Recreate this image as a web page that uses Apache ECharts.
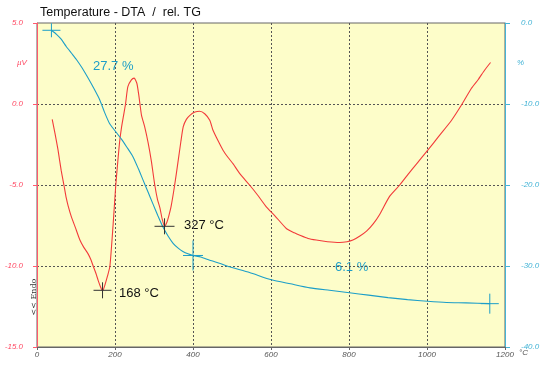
<!DOCTYPE html>
<html><head><meta charset="utf-8">
<script src="https://cdn.jsdelivr.net/npm/echarts@6/dist/echarts.min.js"></script>
<style>html,body{margin:0;padding:0;background:#fff}#c{width:550px;height:370px}</style>
</head><body><div id="c"></div>
<script>
// DTA curve (temperature °C, µV)
const dtaTemp = [39,46,54,62,69,75,80,88,98,110,120,131,138,144,151,157,163,168,175,181,187,195,202,207,212,217,222,227,233,242,249,256,261,264,268,276,285,293,302,309,315,321,327,333,338,344,353,362,369,375,383,392,405,417,430,443,451,465,477,490,503,520,545,565,588,610,640,660,674,695,716,745,776,795,810,828,845,862,879,904,930,956,980,1002,1030,1063,1090,1114,1131,1148,1163];
const dtaVal  = [-0.95,-1.8,-2.85,-4.1,-5.0,-5.8,-6.3,-6.95,-7.6,-8.4,-8.85,-9.25,-9.6,-10.0,-10.45,-10.9,-11.3,-11.55,-11.1,-10.6,-10.0,-7.5,-5.0,-3.6,-2.3,-1.4,-0.7,0,1.07,1.49,1.6,1.28,0.55,0,-0.7,-1.4,-2.4,-3.5,-5.0,-5.9,-6.4,-7.1,-7.55,-7.3,-6.9,-6.3,-5.0,-3.5,-2.3,-1.4,-0.95,-0.7,-0.5,-0.45,-0.6,-1.0,-1.6,-2.3,-2.85,-3.3,-3.7,-4.3,-5.0,-5.6,-6.35,-6.9,-7.7,-7.95,-8.1,-8.3,-8.4,-8.5,-8.55,-8.5,-8.4,-8.15,-7.85,-7.4,-6.8,-5.7,-5.0,-4.2,-3.5,-2.85,-2.0,-1.0,0,0.97,1.5,2.1,2.56];
// TG curve (temperature °C, %)
const tgTemp = [37,50,62,75,88,101,115,131,146,161,173,186,200,216,230,246,260,272,285,297,310,323,336,349,362,374,387,400,420,443,470,494,545,601,650,700,750,801,850,900,950,1001,1050,1100,1161];
const tgVal  = [-0.9,-1.4,-2.0,-2.9,-3.7,-4.5,-5.5,-6.8,-8.1,-9.5,-11.0,-12.4,-13.3,-14.3,-15.3,-16.5,-18.0,-19.4,-20.9,-22.3,-23.8,-25.2,-26.3,-27.2,-27.8,-28.2,-28.5,-28.7,-28.9,-29.3,-29.7,-30.1,-30.8,-31.7,-32.2,-32.7,-33.0,-33.3,-33.6,-33.9,-34.15,-34.35,-34.5,-34.55,-34.65];
// marked points
const dtaMarks = [[168,-11.5],[327,-7.55]];
const tgMarks  = [[37,-0.9],[400,-28.7],[1161,-34.65]];
const xTicks = [0,200,400,600,800,1000,1200];

const RED = '#f23a3a', TEAL = '#1c9ec8';
const dtaMarkSize = [[18,16],[20,16]];
const tgMarkSize  = [[18,14],[20,30],[18,20]];

function crossRenderer(color, sizes){
  return function(params, api){
    const p = api.coord([api.value(0), api.value(1)]);
    const s = sizes[params.dataIndex];
    return {type:'group', children:[
      {type:'line', shape:{x1:p[0]-s[0]/2, y1:p[1], x2:p[0]+s[0]/2, y2:p[1]}, style:{stroke:color, lineWidth:1}},
      {type:'line', shape:{x1:p[0], y1:p[1]-s[1]/2, x2:p[0], y2:p[1]+s[1]/2}, style:{stroke:color, lineWidth:1}}
    ]};
  };
}

const chart = echarts.init(document.getElementById('c'), null, {renderer:'canvas'});
const F = 'Liberation Sans, Arial, sans-serif';
chart.setOption({
  animation:false,
  backgroundColor:'#fff',
  grid:{left:37, right:45, top:23, bottom:23, show:true, backgroundColor:'#fdfdc9', borderColor:'#666', borderWidth:1},
  xAxis:{type:'value', min:0, max:1200, interval:200,
    axisLine:{onZero:false, lineStyle:{color:'#666'}}, axisTick:{show:true, length:3, lineStyle:{color:'#666'}},
    axisLabel:{color:'#555', fontSize:8, fontStyle:'italic', fontFamily:F, margin:4,
      formatter:v=>xTicks.includes(v)?String(v):''},
    splitLine:{show:true, showMinLine:false, showMaxLine:false, lineStyle:{color:'#555', type:[2,2], width:1}}
  },
  yAxis:[
    {type:'value', min:-15, max:5, interval:5, position:'left',
      axisLine:{show:true, onZero:false, lineStyle:{color:'#ff5a6e'}}, axisTick:{show:true, length:4, lineStyle:{color:'#ff5a6e'}},
      axisLabel:{color:'#ff4a64', fontSize:8, fontStyle:'italic', fontFamily:F, margin:14, formatter:v=>v.toFixed(1)},
      splitLine:{show:true, showMinLine:false, showMaxLine:false, lineStyle:{color:'#555', type:[2,2], width:1}}
    },
    {type:'value', min:-40, max:0, interval:10, position:'right',
      axisLine:{show:true, onZero:false, lineStyle:{color:'#45b4d6'}}, axisTick:{show:true, length:5, lineStyle:{color:'#45b4d6'}},
      axisLabel:{color:'#45b4d6', fontSize:8, fontStyle:'italic', fontFamily:F, margin:16, formatter:v=>v.toFixed(1)},
      splitLine:{show:false}
    }
  ],
  series:[
    {type:'line', name:'DTA', yAxisIndex:0, showSymbol:false, smooth:0.2,
      data:dtaTemp.map((t,i)=>[t,dtaVal[i]]), lineStyle:{color:RED, width:1.1}, z:3},
    {type:'line', name:'TG', yAxisIndex:1, showSymbol:false, smooth:0.2,
      data:tgTemp.map((t,i)=>[t,tgVal[i]]), lineStyle:{color:TEAL, width:1.1}, z:3},
    {type:'custom', yAxisIndex:0, data:dtaMarks, renderItem:crossRenderer('#333', dtaMarkSize), z:4},
    {type:'custom', yAxisIndex:1, data:tgMarks, renderItem:crossRenderer(TEAL, tgMarkSize), z:4}
  ],
  graphic:[
    {type:'text', left:40, top:6, style:{text:'Temperature - DTA  /  rel. TG', font:'12.5px '+F, fill:'#111'}},
    {type:'text', left:17, top:59, style:{text:'µV', font:'italic 8px '+F, fill:'#ff4a64'}},
    {type:'text', left:517, top:59, style:{text:'%', font:'italic 8px '+F, fill:'#45b4d6'}},
    {type:'text', left:519, top:349, style:{text:'°C', font:'italic 8px '+F, fill:'#555'}},
    {type:'text', x:34, y:297, rotation:Math.PI/2, style:{text:'<< Endo', font:'8px DejaVu Serif, serif', fill:'#333', textAlign:'center', textVerticalAlign:'middle'}},
    {type:'text', left:93, top:60, style:{text:'27.7 %', font:'13px '+F, fill:TEAL}},
    {type:'text', left:335, top:261, style:{text:'6.1 %', font:'13px '+F, fill:TEAL}},
    {type:'text', left:119, top:287, style:{text:'168 °C', font:'13px '+F, fill:'#111'}},
    {type:'text', left:184, top:219, style:{text:'327 °C', font:'13px '+F, fill:'#111'}}
  ]
});
</script></body></html>
